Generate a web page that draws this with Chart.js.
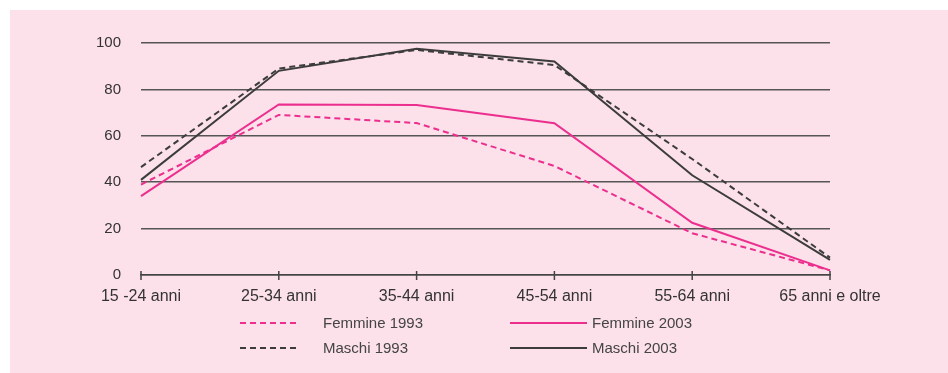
<!DOCTYPE html>
<html>
<head>
<meta charset="utf-8">
<script src="https://cdn.jsdelivr.net/npm/chart.js@4"></script>
<style>
  html, body { margin: 0; padding: 0; background: #ffffff; }
  #wrap { width: 948px; height: 373px; position: relative; }
</style>
</head>
<body>
<div id="wrap"><canvas id="chart" width="948" height="373"></canvas></div>
<script>
const categories = ["15 -24 anni", "25-34 anni", "35-44 anni", "45-54 anni", "55-64 anni", "65 anni e oltre"];
const femmine1993 = [39, 69, 65.5, 47, 18, 2];
const femmine2003 = [34, 73.5, 73.3, 65.4, 22.5, 2];
const maschi1993 = [46.5, 89, 97, 90.5, 50, 7.5];
const maschi2003 = [41, 88, 97.5, 92, 43, 6.5];
const yTicks = [0, 20, 40, 60, 80, 100];

const pink = "#ec2f8e";
const dark = "#3c3c3c";
const font = "'Liberation Sans', Arial, sans-serif";

// pink panel with a thin white margin top/left
const panelPlugin = {
  id: "panel",
  beforeDraw(chart) {
    const ctx = chart.ctx;
    ctx.save();
    ctx.fillStyle = "#fce0ea";
    ctx.fillRect(10, 10, chart.width - 10, chart.height - 10);
    ctx.restore();
  }
};

// small tick marks crossing the x axis line
const tickPlugin = {
  id: "crossTicks",
  afterDraw(chart) {
    const ctx = chart.ctx;
    const x = chart.scales.x;
    const y0 = chart.scales.y.getPixelForValue(0);
    ctx.save();
    ctx.strokeStyle = "#444";
    ctx.lineWidth = 1.5;
    x.ticks.forEach((t, i) => {
      const px = x.getPixelForTick(i);
      ctx.beginPath();
      ctx.moveTo(px, y0 - 4);
      ctx.lineTo(px, y0 + 5);
      ctx.stroke();
    });
    ctx.restore();
  }
};

// legend drawn by hand, two columns
const legendPlugin = {
  id: "customLegend",
  afterDraw(chart) {
    const ctx = chart.ctx;
    const spots = [
      { x: 240, y: 323, len: 60, tx: 323 },
      { x: 510, y: 323, len: 77, tx: 592 },
      { x: 240, y: 348, len: 60, tx: 323 },
      { x: 510, y: 348, len: 77, tx: 592 }
    ];
    chart.data.datasets.forEach((ds, i) => {
      const s = spots[i];
      ctx.save();
      ctx.strokeStyle = ds.borderColor;
      ctx.lineWidth = 2;
      ctx.setLineDash(ds.borderDash || []);
      ctx.beginPath();
      ctx.moveTo(s.x, s.y);
      ctx.lineTo(s.x + s.len, s.y);
      ctx.stroke();
      ctx.setLineDash([]);
      ctx.fillStyle = "#444";
      ctx.font = "15px " + font;
      ctx.textBaseline = "middle";
      ctx.fillText(ds.label, s.tx, s.y + 1);
      ctx.restore();
    });
  }
};

new Chart(document.getElementById("chart"), {
  type: "line",
  data: {
    labels: categories,
    datasets: [
      { label: "Femmine 1993", data: femmine1993, borderColor: pink, borderDash: [6, 4], borderWidth: 2, pointRadius: 0, tension: 0 },
      { label: "Femmine 2003", data: femmine2003, borderColor: pink, borderWidth: 2, pointRadius: 0, tension: 0 },
      { label: "Maschi 1993", data: maschi1993, borderColor: dark, borderDash: [6, 4], borderWidth: 2, pointRadius: 0, tension: 0 },
      { label: "Maschi 2003", data: maschi2003, borderColor: dark, borderWidth: 2, pointRadius: 0, tension: 0 }
    ]
  },
  options: {
    responsive: false,
    animation: false,
    layout: { padding: { top: 43, right: 118, left: 0, bottom: 0 } },
    plugins: { legend: { display: false }, tooltip: { enabled: false } },
    scales: {
      x: {
        offset: false,
        border: { display: true, color: "#444", width: 1.5 },
        grid: { display: false, drawOnChartArea: false, tickLength: 5 },
        ticks: { color: "#333", font: { family: font, size: 16 }, padding: 7, maxRotation: 0, autoSkip: false },
        afterFit(scale) { scale.height = 98; }
      },
      y: {
        min: 0, max: 100,
        afterBuildTicks(scale) { scale.ticks = yTicks.map(v => ({ value: v })); },
        border: { display: false },
        grid: { color: "#555", lineWidth: 1.5, drawTicks: false },
        ticks: { color: "#333", font: { family: font, size: 15 }, padding: 20 },
        afterFit(scale) { scale.width = 141; }
      }
    }
  },
  plugins: [panelPlugin, tickPlugin, legendPlugin]
});
</script>
</body>
</html>
